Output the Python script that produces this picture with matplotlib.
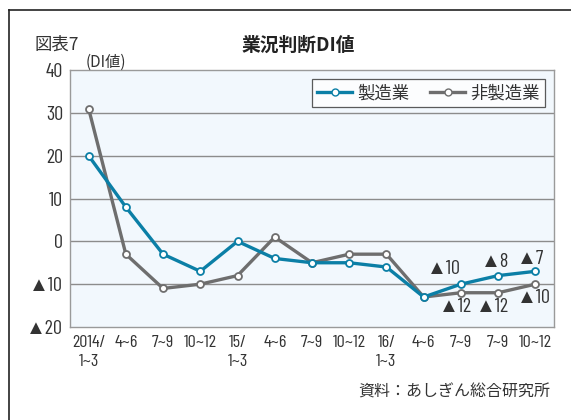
import matplotlib
matplotlib.use("Agg")
import matplotlib.pyplot as plt
from matplotlib.lines import Line2D

plt.rcParams["font.family"] = ["Noto Sans CJK JP", "DejaVu Sans"]
num_font = ["Barlow Condensed", "Liberation Sans", "Noto Sans CJK JP"]

# データ
periods = ["2014/\n1~3", "4~6", "7~9", "10~12", "15/\n1~3", "4~6", "7~9", "10~12",
           "16/\n1~3", "4~6", "7~9", "7~9", "10~12"]
seizo = [20, 8, -3, -7, 0, -4, -5, -5, -6, -13, -10, -8, -7]
hiseizo = [31, -3, -11, -10, -8, 1, -5, -3, -3, -13, -12, -12, -10]
yticks = [40, 30, 20, 10, 0, -10, -20]
ylabels = ["40", "30", "20", "10", "0", "▲10", "▲20"]

blue = "#0b7fa6"
gray = "#6e6e6e"
txt = "#333333"

fig = plt.figure(figsize=(5.71, 4.2), dpi=100)
W, H = 571, 420
ax = fig.add_axes([70 / W, 1 - 327 / H, 484 / W, 257 / H])
ax.set_facecolor("#f2f8fd")

x = list(range(len(periods)))
ax.plot(x, hiseizo, color=gray, lw=2.4, marker="o", ms=5, mfc="white", mec=gray, mew=1.3, zorder=3)
ax.plot(x, seizo, color=blue, lw=2.4, marker="o", ms=5, mfc="white", mec=blue, mew=1.3, zorder=4)

ax.set_xlim(-0.5, len(periods) - 0.5)
ax.set_ylim(-20, 40)
ax.set_yticks(yticks)
ax.set_yticklabels(ylabels, fontsize=14.5, color=txt, family=num_font)
ax.set_xticks(x)
ax.set_xticklabels(periods, fontsize=13, color=txt, family=num_font, linespacing=1.3)
ax.tick_params(length=0)
ax.tick_params(axis="x", pad=6)
ax.tick_params(axis="y", pad=5)
for y in [30, 20, 10, 0, -10]:
    ax.axhline(y, color="#8c8c8c", lw=1.0, zorder=1)
for s in ax.spines.values():
    s.set_color("#9a9a9a")
    s.set_linewidth(1.0)

# 数値ラベル
lab = dict(fontsize=14.5, color=txt, ha="center", va="center", family=num_font,
           textcoords="offset points")
ax.annotate("▲10", (10, seizo[10]), xytext=(-12, 11), **lab)
ax.annotate("▲8", (11, seizo[11]), xytext=(-2, 10), **lab)
ax.annotate("▲7", (12, seizo[12]), xytext=(-3.6, 8.6), **lab)
ax.annotate("▲12", (10, hiseizo[10]), xytext=(-3.6, -10), **lab)
ax.annotate("▲12", (11, hiseizo[11]), xytext=(-4.3, -10), **lab)
ax.annotate("▲10", (12, hiseizo[12]), xytext=(-1.4, -10), **lab)

handles = [Line2D([], [], color=blue, lw=2.4, marker="o", ms=5, mfc="white", mec=blue),
           Line2D([], [], color=gray, lw=2.4, marker="o", ms=5, mfc="white", mec=gray)]
leg = ax.legend(handles, ["製造業", "非製造業"], loc="upper right", ncol=2, fontsize=12.5,
                frameon=True, fancybox=False, edgecolor="#333333", handlelength=2.0,
                handletextpad=0.3, columnspacing=1.2, borderpad=0.3, borderaxespad=0,
                bbox_to_anchor=(0.981, 0.965))
leg.get_frame().set_linewidth(0.9)
for t in leg.get_texts():
    t.set_color(txt)

fig.text(35 / W, 1 - 45 / H, "図表7", fontsize=12.5, color=txt, va="center", ha="left")
fig.text(86 / W, 1 - 62 / H, "(DI値)", fontsize=11, color=txt, va="center", ha="left")
fig.text(298 / W, 1 - 45 / H, "業況判断DI値", fontsize=13.5, fontweight="bold", color="#222222",
         va="center", ha="center")
fig.text(550 / W, 1 - 392 / H, "資料：あしぎん総合研究所", fontsize=11.5, color=txt, va="center", ha="right")

# 外枠
fig.add_artist(Line2D([9 / W, 9 / W], [0, 1 - 10 / H], transform=fig.transFigure, color="#222222", lw=1.2))
fig.add_artist(Line2D([9 / W, 1], [1 - 10 / H, 1 - 10 / H], transform=fig.transFigure, color="#222222", lw=1.2))

fig.savefig("out.png", dpi=100)
